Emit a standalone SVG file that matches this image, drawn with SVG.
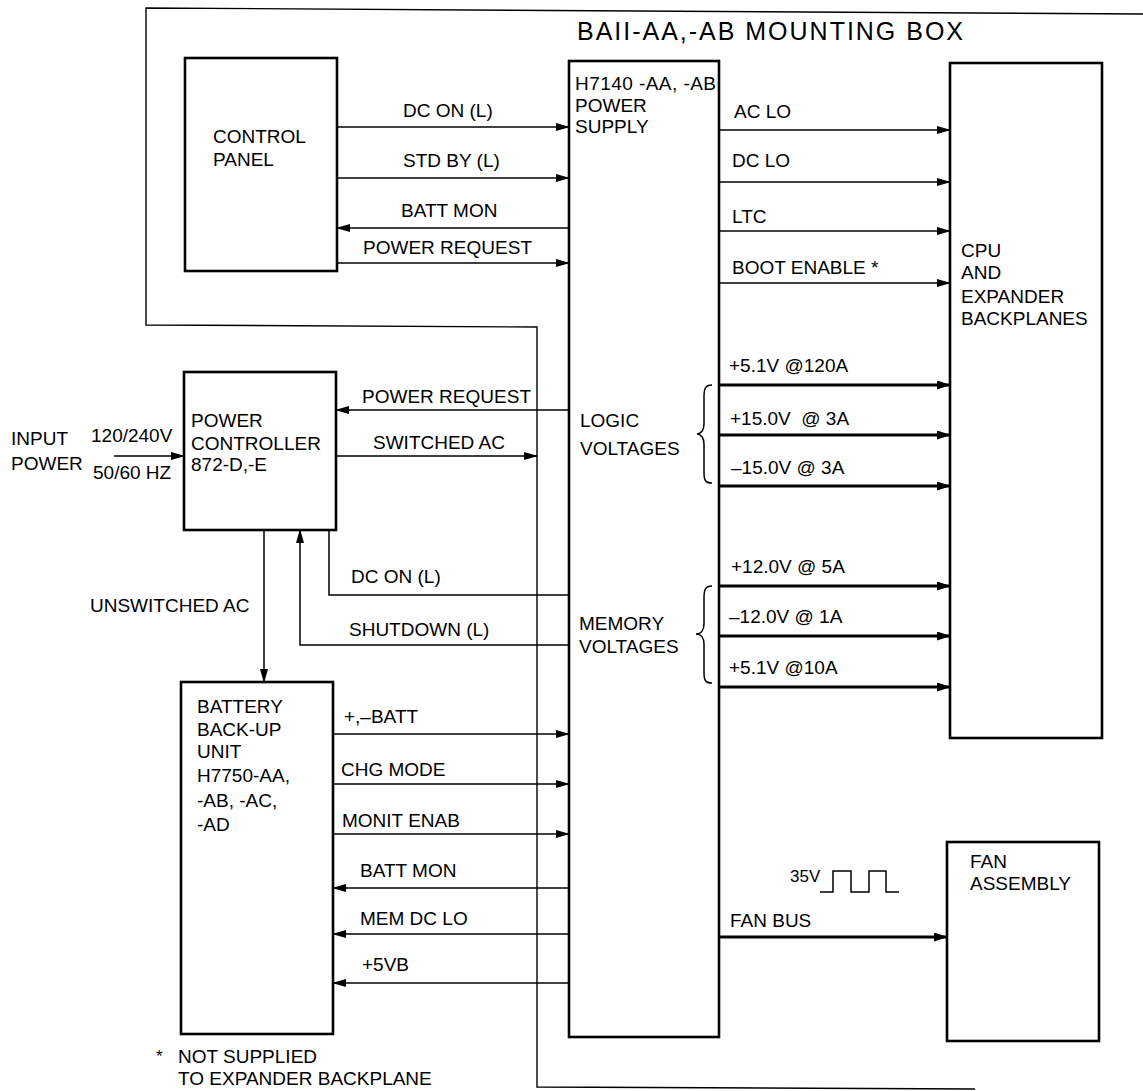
<svg xmlns="http://www.w3.org/2000/svg" width="1143" height="1091" viewBox="0 0 1143 1091">
<defs>
<style>
text{font-family:"Liberation Sans",Arial,sans-serif;font-size:19px;fill:#000}
.box{fill:none;stroke:#000;stroke-width:2.6}
.ln{fill:none;stroke:#000;stroke-width:1.5}
.thk{fill:none;stroke:#000;stroke-width:3}
.frame{fill:none;stroke:#000;stroke-width:1.4}
.title{font-size:25px}
.small{font-size:17px}
</style>
<marker id="ah" viewBox="0 0 14 8" refX="13" refY="4" markerWidth="14" markerHeight="8" markerUnits="userSpaceOnUse" orient="auto">
<path d="M0,0 L14,4 L0,8 z" fill="#000"/>
</marker>
<marker id="ahk" viewBox="0 0 14 9" refX="13" refY="4.5" markerWidth="14" markerHeight="9" markerUnits="userSpaceOnUse" orient="auto">
<path d="M0,0 L14,4.5 L0,9 z" fill="#000"/>
</marker>
</defs>
<rect width="1143" height="1091" fill="#fff"/>

<g id="mounting-box">
<path class="frame" d="M1143,14 L146,8 L146,325 L537,327 L537,1087 L975,1089"/>
<text class="title" x="577" y="40" textLength="386" lengthAdjust="spacing">BAII-AA,-AB MOUNTING BOX</text>
</g>

<g id="control-panel">
<rect class="box" x="185" y="58" width="152" height="213"/>
<text x="213" y="143">CONTROL</text>
<text x="213" y="166">PANEL</text>
</g>

<g id="power-supply">
<rect class="box" x="569" y="61" width="150" height="976"/>
<text x="575" y="90" textLength="141" lengthAdjust="spacing">H7140 -AA, -AB</text>
<text x="575" y="112">POWER</text>
<text x="575" y="133">SUPPLY</text>
<text x="580" y="427">LOGIC</text>
<text x="580" y="455">VOLTAGES</text>
<text x="579" y="630">MEMORY</text>
<text x="579" y="653">VOLTAGES</text>
</g>

<g id="cpu-backplanes">
<rect class="box" x="950" y="63" width="152" height="675"/>
<text x="961" y="257">CPU</text>
<text x="961" y="279">AND</text>
<text x="961" y="303">EXPANDER</text>
<text x="961" y="325">BACKPLANES</text>
</g>

<g id="power-controller">
<rect class="box" x="184" y="372" width="152" height="158"/>
<text x="191" y="427">POWER</text>
<text x="191" y="450">CONTROLLER</text>
<text x="191" y="471">872-D,-E</text>
</g>

<g id="input-power">
<text x="11" y="445">INPUT</text>
<text x="11" y="470">POWER</text>
<text x="91" y="442">120/240V</text>
<text x="93" y="479">50/60 HZ</text>
</g>

<g id="battery-backup">
<rect class="box" x="181" y="682" width="152" height="352"/>
<text x="197" y="713">BATTERY</text>
<text x="197" y="736">BACK-UP</text>
<text x="197" y="758">UNIT</text>
<text x="197" y="782">H7750-AA,</text>
<text x="197" y="807">-AB, -AC,</text>
<text x="197" y="831">-AD</text>
</g>

<g id="fan-assembly">
<rect class="box" x="947" y="842" width="152" height="199"/>
<text x="970" y="868">FAN</text>
<text x="970" y="890">ASSEMBLY</text>
</g>

<g id="footnote">
<text x="156" y="1062" class="small">*</text>
<text x="178" y="1063">NOT SUPPLIED</text>
<text x="178" y="1085">TO EXPANDER BACKPLANE</text>
</g>

<g id="connectors">
<line class="ln" x1="337" y1="127" x2="569" y2="127" marker-end="url(#ah)"/>
<line class="ln" x1="337" y1="178" x2="569" y2="178" marker-end="url(#ah)"/>
<line class="ln" x1="569" y1="228" x2="337" y2="228" marker-end="url(#ah)"/>
<line class="ln" x1="337" y1="263" x2="569" y2="263" marker-end="url(#ah)"/>
<line class="ln" x1="114" y1="456" x2="184" y2="456" marker-end="url(#ah)"/>
<line class="ln" x1="569" y1="410" x2="336" y2="410" marker-end="url(#ah)"/>
<line class="ln" x1="336" y1="456" x2="537" y2="456" marker-end="url(#ah)"/>
<polyline class="ln" points="329,530 329,595 569,595"/>
<polyline class="ln" points="569,645 300,645 300,530" marker-end="url(#ah)"/>
<line class="ln" x1="264" y1="530" x2="264" y2="682" marker-end="url(#ah)"/>
<line class="ln" x1="333" y1="734" x2="569" y2="734" marker-end="url(#ah)"/>
<line class="ln" x1="333" y1="784" x2="569" y2="784" marker-end="url(#ah)"/>
<line class="ln" x1="333" y1="834" x2="569" y2="834" marker-end="url(#ah)"/>
<line class="ln" x1="569" y1="888" x2="333" y2="888" marker-end="url(#ah)"/>
<line class="ln" x1="569" y1="934" x2="333" y2="934" marker-end="url(#ah)"/>
<line class="ln" x1="569" y1="983" x2="333" y2="983" marker-end="url(#ah)"/>
<line class="ln" x1="719" y1="130" x2="950" y2="130" marker-end="url(#ah)"/>
<line class="ln" x1="719" y1="182" x2="950" y2="182" marker-end="url(#ah)"/>
<line class="ln" x1="719" y1="231" x2="950" y2="231" marker-end="url(#ah)"/>
<line class="ln" x1="719" y1="283" x2="950" y2="283" marker-end="url(#ah)"/>
<line class="thk" x1="719" y1="385" x2="950" y2="385" marker-end="url(#ahk)"/>
<line class="thk" x1="719" y1="435" x2="950" y2="435" marker-end="url(#ahk)"/>
<line class="thk" x1="719" y1="486" x2="950" y2="486" marker-end="url(#ahk)"/>
<line class="thk" x1="719" y1="586" x2="950" y2="586" marker-end="url(#ahk)"/>
<line class="thk" x1="719" y1="636" x2="950" y2="636" marker-end="url(#ahk)"/>
<line class="thk" x1="719" y1="687" x2="950" y2="687" marker-end="url(#ahk)"/>
<line class="thk" x1="719" y1="937" x2="947" y2="937" marker-end="url(#ahk)"/>
<path class="ln" d="M712,385 C705,385 704,389 704,397 L704,424 C704,430 701,434 697,434 C701,434 704,438 704,444 L704,472 C704,480 705,483 712,483"/>
<path class="ln" d="M712,586 C705,586 704,590 704,598 L704,624 C704,630 701,634 696,634 C701,634 704,638 704,644 L704,672 C704,680 705,683 712,683"/>
<polyline class="ln" stroke-width="2" points="820,892 833,892 833,871 851,871 851,892 869,892 869,871 886,871 886,892 899,892"/>
</g>

<g id="labels">
<text x="403" y="117">DC ON (L)</text>
<text x="403" y="167">STD BY (L)</text>
<text x="401" y="217">BATT MON</text>
<text x="363" y="254" textLength="169" lengthAdjust="spacing">POWER REQUEST</text>
<text x="362" y="403" textLength="169" lengthAdjust="spacing">POWER REQUEST</text>
<text x="373" y="449">SWITCHED AC</text>
<text x="351" y="583">DC ON (L)</text>
<text x="349" y="636">SHUTDOWN (L)</text>
<text x="90" y="612">UNSWITCHED AC</text>
<text x="344" y="723">+,–BATT</text>
<text x="341" y="776">CHG MODE</text>
<text x="342" y="827">MONIT ENAB</text>
<text x="360" y="877">BATT MON</text>
<text x="360" y="925">MEM DC LO</text>
<text x="362" y="971">+5VB</text>
<text x="734" y="118">AC LO</text>
<text x="732" y="167">DC LO</text>
<text x="732" y="223">LTC</text>
<text x="732" y="274">BOOT ENABLE *</text>
<text x="729" y="372">+5.1V @120A</text>
<text x="730" y="425" xml:space="preserve">+15.0V  @ 3A</text>
<text x="731" y="474">–15.0V @ 3A</text>
<text x="731" y="573">+12.0V @ 5A</text>
<text x="729" y="623">–12.0V @ 1A</text>
<text x="729" y="674">+5.1V @10A</text>
<text x="730" y="927">FAN BUS</text>
<text class="small" x="790" y="882">35V</text>
</g>
</svg>
